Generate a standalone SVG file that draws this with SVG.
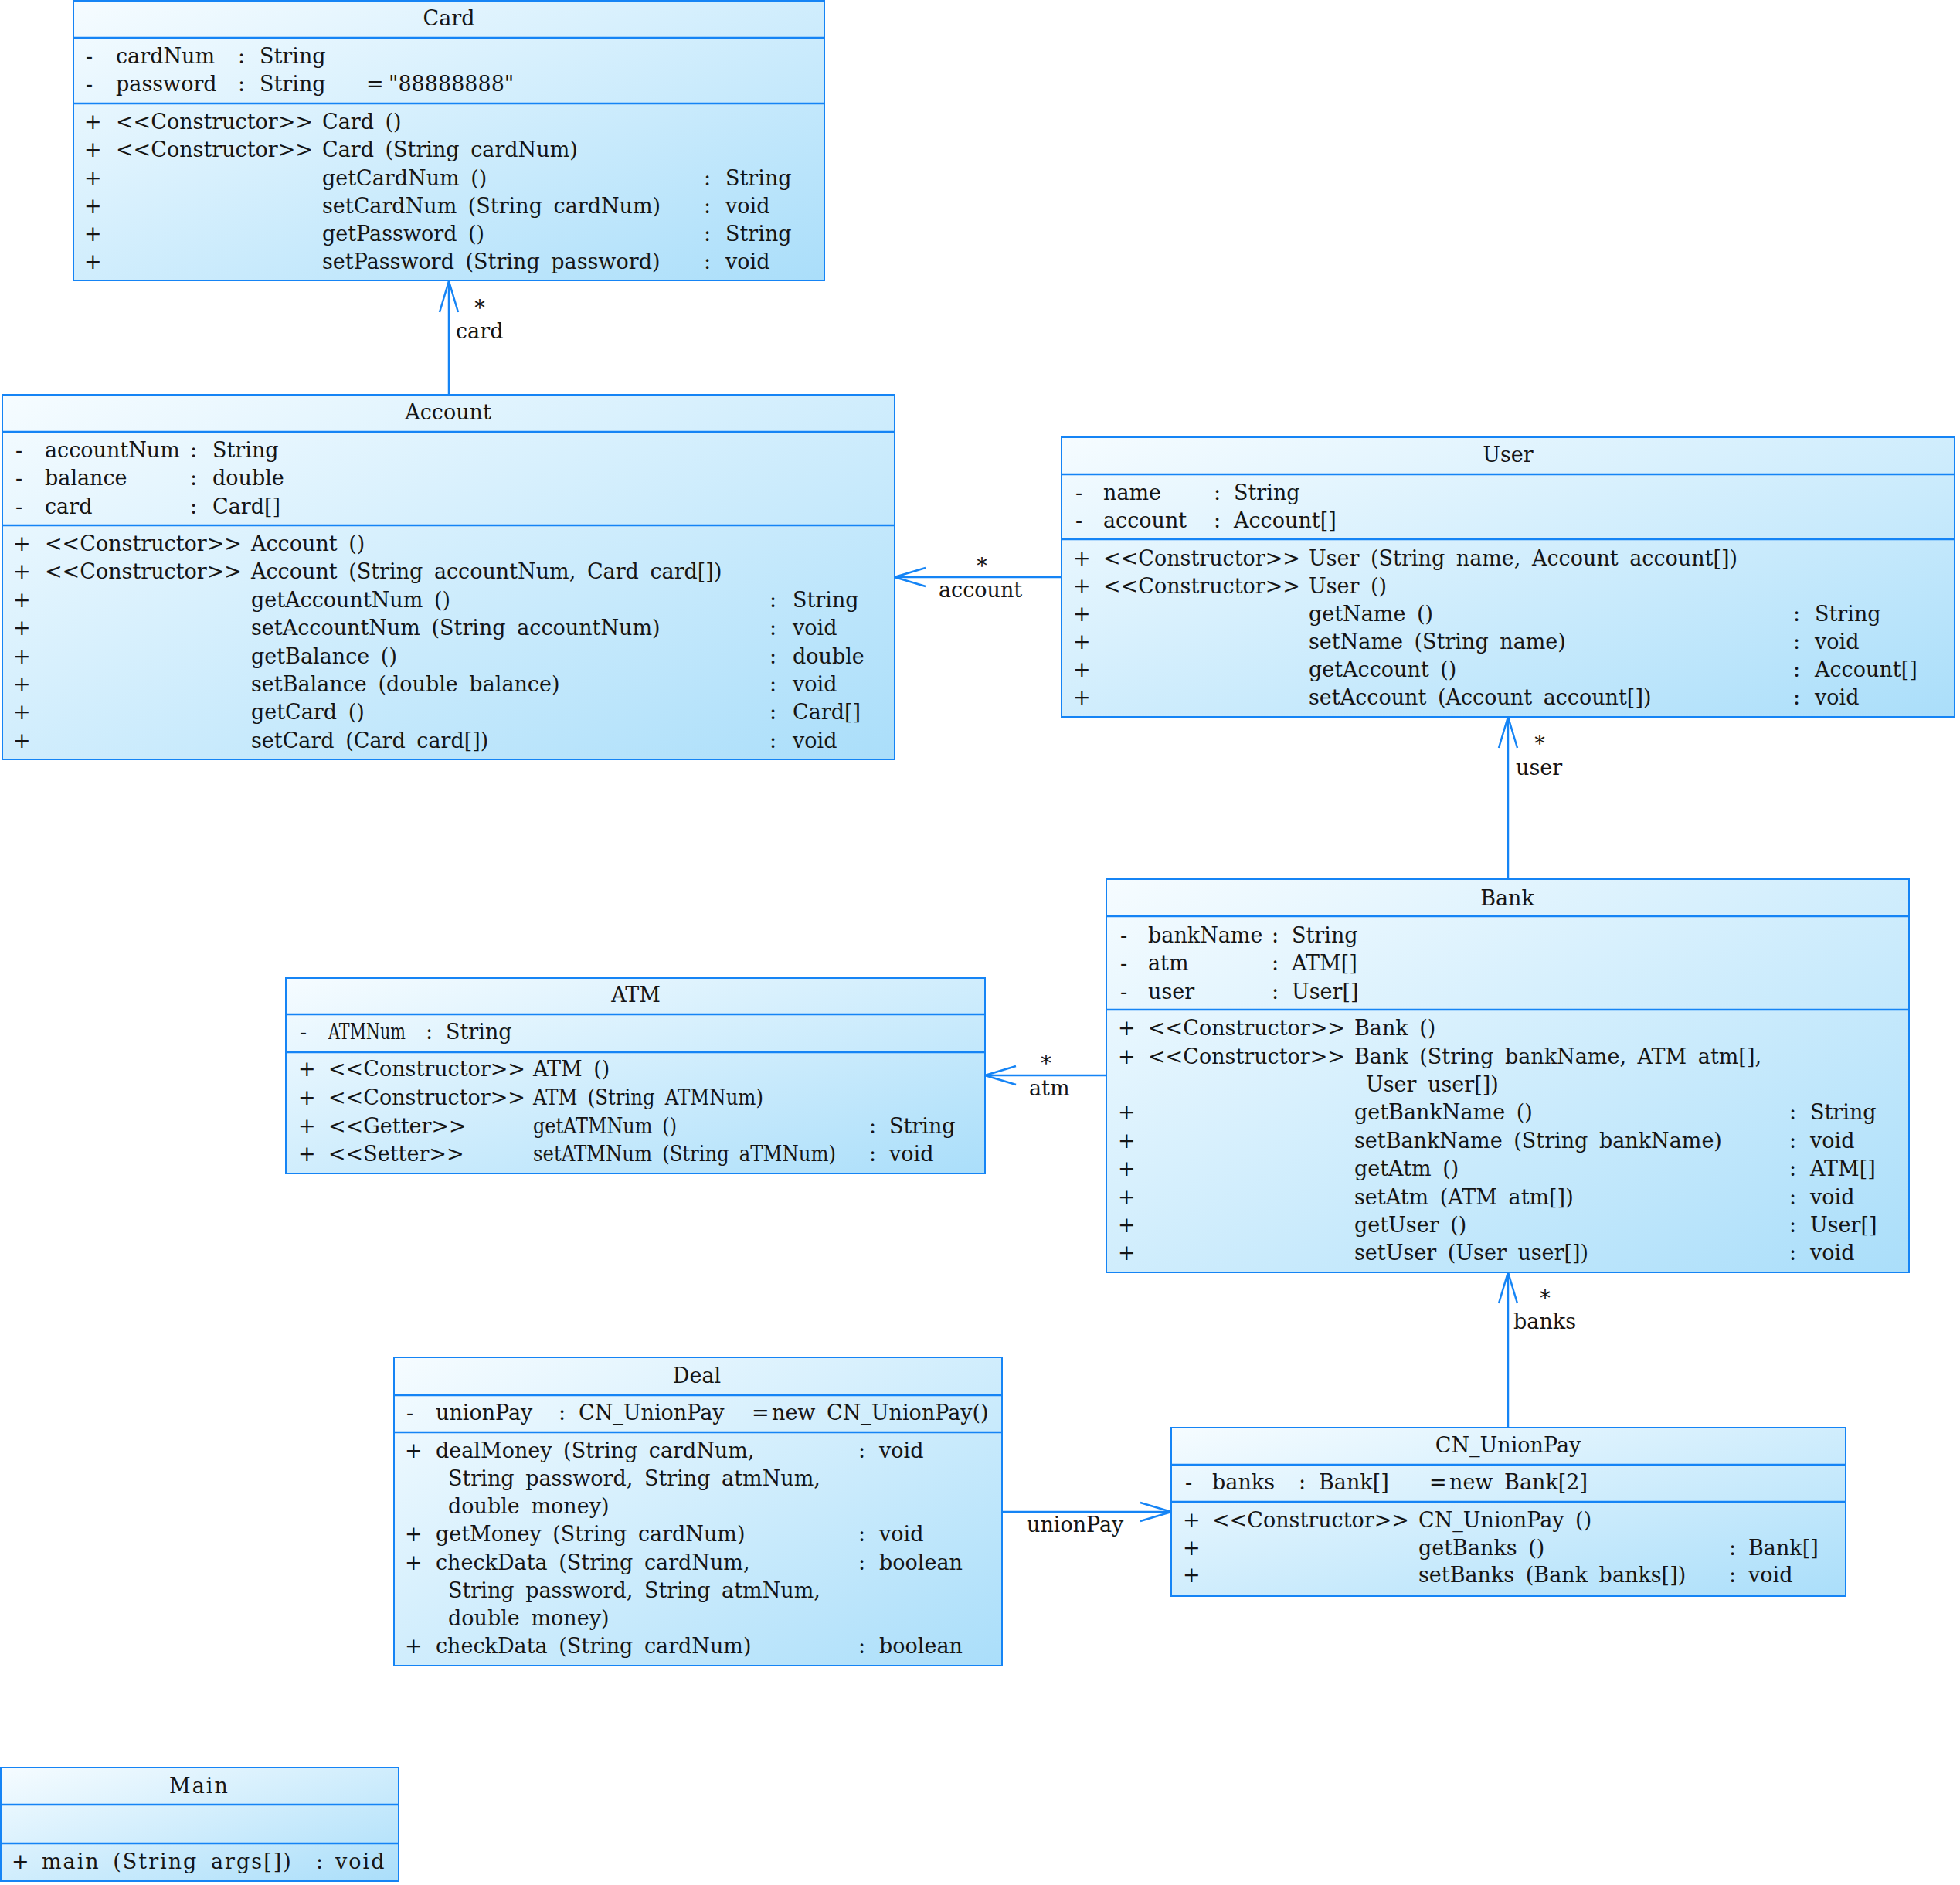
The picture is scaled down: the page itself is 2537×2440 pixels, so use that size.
<svg xmlns="http://www.w3.org/2000/svg" width="2537" height="2440" viewBox="0 0 2537 2440">
<defs>
<linearGradient id="g" x1="0" y1="0" x2="1" y2="1">
<stop offset="0" stop-color="#f6fcff"/>
<stop offset="1" stop-color="#aadefa"/>
</linearGradient>
<marker id="arr" markerUnits="userSpaceOnUse" viewBox="0 0 44 28" markerWidth="44" markerHeight="28" refX="41" refY="14" orient="auto">
<path d="M1,2 L41,14 L1,26" fill="none" stroke="#1584f5" stroke-width="2.5"/>
</marker>
</defs>
<style>
.box{fill:url(#g);stroke:#1584f5;stroke-width:2}
.dv{stroke:#1584f5;stroke-width:2.5}
text{font-family:"DejaVu Serif","Liberation Serif",serif;font-size:27px;fill:#151515;word-spacing:6px}
.t{text-anchor:middle}
.m{text-anchor:middle}
.ls{letter-spacing:2px}
.cn{stroke:#1584f5;stroke-width:2.5;fill:none}
</style>
<rect width="2537" height="2440" fill="#ffffff"/>

<g id="connectors">
<line class="cn" x1="581" y1="511" x2="581" y2="364" marker-end="url(#arr)"/>
<text class="m" x="621" y="408">*</text>
<text x="590" y="438">card</text>
<line class="cn" x1="1374" y1="747" x2="1158" y2="747" marker-end="url(#arr)"/>
<text class="m" x="1271" y="742">*</text>
<text x="1215" y="773">account</text>
<line class="cn" x1="1952" y1="1138" x2="1952" y2="928" marker-end="url(#arr)"/>
<text class="m" x="1993" y="972">*</text>
<text x="1962" y="1003">user</text>
<line class="cn" x1="1432" y1="1392" x2="1275" y2="1392" marker-end="url(#arr)"/>
<text class="m" x="1354" y="1386">*</text>
<text x="1332" y="1418">atm</text>
<line class="cn" x1="1952" y1="1848" x2="1952" y2="1647" marker-end="url(#arr)"/>
<text class="m" x="2000" y="1690">*</text>
<text x="1959" y="1720">banks</text>
<line class="cn" x1="1297" y1="1957" x2="1516" y2="1957" marker-end="url(#arr)"/>
<text x="1329" y="1983">unionPay</text>
</g>

<g id="Card">
<rect class="box" x="95" y="1" width="972" height="362"/>
<line class="dv" x1="95" y1="49" x2="1067" y2="49"/>
<line class="dv" x1="95" y1="134" x2="1067" y2="134"/>
<text class="t" x="581" y="33">Card</text>
<text x="111" y="82">-</text><text x="150" y="82">cardNum</text><text x="308" y="82">:</text><text x="336" y="82">String</text>
<text x="111" y="118">-</text><text x="150" y="118">password</text><text x="308" y="118">:</text><text x="336" y="118">String</text><text x="474" y="118">=</text><text x="503" y="118">"88888888"</text>
<text x="109" y="167">+</text><text x="150" y="167">&lt;&lt;Constructor&gt;&gt;</text><text x="417" y="167">Card ()</text>
<text x="109" y="203">+</text><text x="150" y="203">&lt;&lt;Constructor&gt;&gt;</text><text x="417" y="203">Card (String cardNum)</text>
<text x="109" y="240">+</text><text x="417" y="240">getCardNum ()</text><text x="911" y="240">:</text><text x="939" y="240">String</text>
<text x="109" y="276">+</text><text x="417" y="276">setCardNum (String cardNum)</text><text x="911" y="276">:</text><text x="939" y="276">void</text>
<text x="109" y="312">+</text><text x="417" y="312">getPassword ()</text><text x="911" y="312">:</text><text x="939" y="312">String</text>
<text x="109" y="348">+</text><text x="417" y="348">setPassword (String password)</text><text x="911" y="348">:</text><text x="939" y="348">void</text>
</g>

<g id="Account">
<rect class="box" x="3" y="511" width="1155" height="472"/>
<line class="dv" x1="3" y1="559" x2="1158" y2="559"/>
<line class="dv" x1="3" y1="680" x2="1158" y2="680"/>
<text class="t" x="580" y="543">Account</text>
<text x="20" y="592">-</text><text x="58" y="592">accountNum</text><text x="246" y="592">:</text><text x="275" y="592">String</text>
<text x="20" y="628">-</text><text x="58" y="628">balance</text><text x="246" y="628">:</text><text x="275" y="628">double</text>
<text x="20" y="665">-</text><text x="58" y="665">card</text><text x="246" y="665">:</text><text x="275" y="665">Card[]</text>
<text x="17" y="713">+</text><text x="58" y="713">&lt;&lt;Constructor&gt;&gt;</text><text x="325" y="713">Account ()</text>
<text x="17" y="749">+</text><text x="58" y="749">&lt;&lt;Constructor&gt;&gt;</text><text x="325" y="749">Account (String accountNum, Card card[])</text>
<text x="17" y="786">+</text><text x="325" y="786">getAccountNum ()</text><text x="996" y="786">:</text><text x="1026" y="786">String</text>
<text x="17" y="822">+</text><text x="325" y="822">setAccountNum (String accountNum)</text><text x="996" y="822">:</text><text x="1026" y="822">void</text>
<text x="17" y="859">+</text><text x="325" y="859">getBalance ()</text><text x="996" y="859">:</text><text x="1026" y="859">double</text>
<text x="17" y="895">+</text><text x="325" y="895">setBalance (double balance)</text><text x="996" y="895">:</text><text x="1026" y="895">void</text>
<text x="17" y="931">+</text><text x="325" y="931">getCard ()</text><text x="996" y="931">:</text><text x="1026" y="931">Card[]</text>
<text x="17" y="968">+</text><text x="325" y="968">setCard (Card card[])</text><text x="996" y="968">:</text><text x="1026" y="968">void</text>
</g>

<g id="User">
<rect class="box" x="1374" y="566" width="1156" height="362"/>
<line class="dv" x1="1374" y1="614" x2="2530" y2="614"/>
<line class="dv" x1="1374" y1="698" x2="2530" y2="698"/>
<text class="t" x="1952" y="598">User</text>
<text x="1392" y="647">-</text><text x="1428" y="647">name</text><text x="1571" y="647">:</text><text x="1597" y="647">String</text>
<text x="1392" y="683">-</text><text x="1428" y="683">account</text><text x="1571" y="683">:</text><text x="1597" y="683">Account[]</text>
<text x="1389" y="732">+</text><text x="1428" y="732">&lt;&lt;Constructor&gt;&gt;</text><text x="1694" y="732">User (String name, Account account[])</text>
<text x="1389" y="768">+</text><text x="1428" y="768">&lt;&lt;Constructor&gt;&gt;</text><text x="1694" y="768">User ()</text>
<text x="1389" y="804">+</text><text x="1694" y="804">getName ()</text><text x="2321" y="804">:</text><text x="2349" y="804">String</text>
<text x="1389" y="840">+</text><text x="1694" y="840">setName (String name)</text><text x="2321" y="840">:</text><text x="2349" y="840">void</text>
<text x="1389" y="876">+</text><text x="1694" y="876">getAccount ()</text><text x="2321" y="876">:</text><text x="2349" y="876">Account[]</text>
<text x="1389" y="912">+</text><text x="1694" y="912">setAccount (Account account[])</text><text x="2321" y="912">:</text><text x="2349" y="912">void</text>
</g>

<g id="Bank">
<rect class="box" x="1432" y="1138" width="1039" height="509"/>
<line class="dv" x1="1432" y1="1186" x2="2471" y2="1186"/>
<line class="dv" x1="1432" y1="1307" x2="2471" y2="1307"/>
<text class="t" x="1951" y="1172">Bank</text>
<text x="1450" y="1220">-</text><text x="1486" y="1220">bankName</text><text x="1646" y="1220">:</text><text x="1672" y="1220">String</text>
<text x="1450" y="1256">-</text><text x="1486" y="1256">atm</text><text x="1646" y="1256">:</text><text x="1672" y="1256">ATM[]</text>
<text x="1450" y="1293">-</text><text x="1486" y="1293">user</text><text x="1646" y="1293">:</text><text x="1672" y="1293">User[]</text>
<text x="1447" y="1340">+</text><text x="1486" y="1340">&lt;&lt;Constructor&gt;&gt;</text><text x="1753" y="1340">Bank ()</text>
<text x="1447" y="1377">+</text><text x="1486" y="1377">&lt;&lt;Constructor&gt;&gt;</text><text x="1753" y="1377">Bank (String bankName, ATM atm[],</text>
<text x="1768" y="1413">User user[])</text>
<text x="1447" y="1449">+</text><text x="1753" y="1449">getBankName ()</text><text x="2316" y="1449">:</text><text x="2343" y="1449">String</text>
<text x="1447" y="1486">+</text><text x="1753" y="1486">setBankName (String bankName)</text><text x="2316" y="1486">:</text><text x="2343" y="1486">void</text>
<text x="1447" y="1522">+</text><text x="1753" y="1522">getAtm ()</text><text x="2316" y="1522">:</text><text x="2343" y="1522">ATM[]</text>
<text x="1447" y="1559">+</text><text x="1753" y="1559">setAtm (ATM atm[])</text><text x="2316" y="1559">:</text><text x="2343" y="1559">void</text>
<text x="1447" y="1595">+</text><text x="1753" y="1595">getUser ()</text><text x="2316" y="1595">:</text><text x="2343" y="1595">User[]</text>
<text x="1447" y="1631">+</text><text x="1753" y="1631">setUser (User user[])</text><text x="2316" y="1631">:</text><text x="2343" y="1631">void</text>
</g>

<g id="ATM">
<rect class="box" x="370" y="1266" width="905" height="253"/>
<line class="dv" x1="370" y1="1313" x2="1275" y2="1313"/>
<line class="dv" x1="370" y1="1362" x2="1275" y2="1362"/>
<text class="t" x="823" y="1297">ATM</text>
<text x="388" y="1345">-</text><text x="425" y="1345" textLength="100" lengthAdjust="spacingAndGlyphs">ATMNum</text><text x="551" y="1345">:</text><text x="577" y="1345">String</text>
<text x="386" y="1393">+</text><text x="425" y="1393">&lt;&lt;Constructor&gt;&gt;</text><text x="690" y="1393">ATM ()</text>
<text x="386" y="1430">+</text><text x="425" y="1430">&lt;&lt;Constructor&gt;&gt;</text><text x="690" y="1430" textLength="298" lengthAdjust="spacingAndGlyphs">ATM (String ATMNum)</text>
<text x="386" y="1467">+</text><text x="425" y="1467">&lt;&lt;Getter&gt;&gt;</text><text x="690" y="1467" textLength="186" lengthAdjust="spacingAndGlyphs">getATMNum ()</text><text x="1125" y="1467">:</text><text x="1151" y="1467">String</text>
<text x="386" y="1503">+</text><text x="425" y="1503">&lt;&lt;Setter&gt;&gt;</text><text x="690" y="1503" textLength="392" lengthAdjust="spacingAndGlyphs">setATMNum (String aTMNum)</text><text x="1125" y="1503">:</text><text x="1151" y="1503">void</text>
</g>

<g id="Deal">
<rect class="box" x="510" y="1757" width="787" height="399"/>
<line class="dv" x1="510" y1="1806" x2="1297" y2="1806"/>
<line class="dv" x1="510" y1="1854" x2="1297" y2="1854"/>
<text class="t" x="902" y="1790">Deal</text>
<text x="526" y="1838">-</text><text x="564" y="1838">unionPay</text><text x="723" y="1838">:</text><text x="749" y="1838">CN_UnionPay</text><text x="973" y="1838">=</text><text x="999" y="1838">new CN_UnionPay()</text>
<text x="524" y="1887">+</text><text x="564" y="1887">dealMoney (String cardNum,</text><text x="1111" y="1887">:</text><text x="1138" y="1887">void</text>
<text x="580" y="1923">String password, String atmNum,</text>
<text x="580" y="1959">double money)</text>
<text x="524" y="1995">+</text><text x="564" y="1995">getMoney (String cardNum)</text><text x="1111" y="1995">:</text><text x="1138" y="1995">void</text>
<text x="524" y="2032">+</text><text x="564" y="2032">checkData (String cardNum,</text><text x="1111" y="2032">:</text><text x="1138" y="2032">boolean</text>
<text x="580" y="2068">String password, String atmNum,</text>
<text x="580" y="2104">double money)</text>
<text x="524" y="2140">+</text><text x="564" y="2140">checkData (String cardNum)</text><text x="1111" y="2140">:</text><text x="1138" y="2140">boolean</text>
</g>

<g id="CN_UnionPay">
<rect class="box" x="1516" y="1848" width="873" height="218"/>
<line class="dv" x1="1516" y1="1896" x2="2389" y2="1896"/>
<line class="dv" x1="1516" y1="1944" x2="2389" y2="1944"/>
<text class="t" x="1952" y="1880">CN_UnionPay</text>
<text x="1534" y="1928">-</text><text x="1569" y="1928">banks</text><text x="1681" y="1928">:</text><text x="1707" y="1928">Bank[]</text><text x="1850" y="1928">=</text><text x="1876" y="1928">new Bank[2]</text>
<text x="1531" y="1977">+</text><text x="1569" y="1977">&lt;&lt;Constructor&gt;&gt;</text><text x="1836" y="1977">CN_UnionPay ()</text>
<text x="1531" y="2013">+</text><text x="1836" y="2013">getBanks ()</text><text x="2238" y="2013">:</text><text x="2263" y="2013">Bank[]</text>
<text x="1531" y="2048">+</text><text x="1836" y="2048">setBanks (Bank banks[])</text><text x="2238" y="2048">:</text><text x="2263" y="2048">void</text>
</g>

<g id="Main">
<rect class="box" x="1" y="2288" width="515" height="147"/>
<line class="dv" x1="1" y1="2336" x2="516" y2="2336"/>
<line class="dv" x1="1" y1="2386" x2="516" y2="2386"/>
<text class="t ls" x="258" y="2321">Main</text>
<text x="15" y="2419">+</text><text class="ls" x="54" y="2419">main (String args[])</text><text x="409" y="2419">:</text><text x="434" y="2419" class="ls">void</text>
</g>
</svg>
